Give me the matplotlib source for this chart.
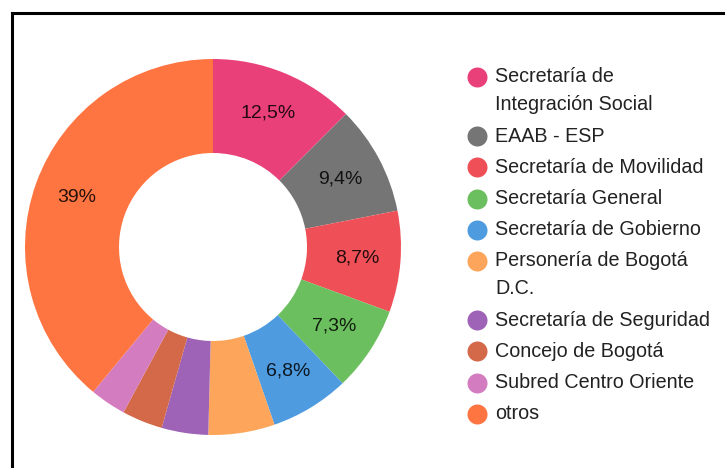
import matplotlib.pyplot as plt
from matplotlib.lines import Line2D
import numpy as np

plt.rcParams['font.family'] = ['Liberation Sans', 'DejaVu Sans']

labels = ['Secretaría de\nIntegración Social', 'EAAB - ESP', 'Secretaría de Movilidad',
          'Secretaría General', 'Secretaría de Gobierno', 'Personería de Bogotá\nD.C.',
          'Secretaría de Seguridad', 'Concejo de Bogotá', 'Subred Centro Oriente', 'otros']
values = [12.5, 9.4, 8.7, 7.3, 6.8, 5.7, 4.0, 3.5, 3.1, 39.0]
pct_text = ['12,5%', '9,4%', '8,7%', '7,3%', '6,8%', '', '', '', '', '39%']
colors = ['#E9407A', '#757575', '#EF5058', '#6CBF5E', '#4E9BE0',
          '#FDA55A', '#9E63B6', '#D4694A', '#D47CC0', '#FF7542']

W, H = 725, 468
fig = plt.figure(figsize=(W / 100, H / 100), dpi=100)

# donut: center (213, 247) px, radius 188 px
cx, cy, r = 213, 247, 188
ax = fig.add_axes([(cx - r) / W, (H - cy - r) / H, 2 * r / W, 2 * r / H])
wedges, _ = ax.pie(values, colors=colors, startangle=90, counterclock=False,
                   radius=1, wedgeprops=dict(width=0.5, linewidth=0))
for w, t in zip(wedges, pct_text):
    if not t:
        continue
    ang = np.deg2rad((w.theta1 + w.theta2) / 2)
    ax.text(0.77 * np.cos(ang), 0.77 * np.sin(ang), t, ha='center', va='center',
            fontsize=14, color='black', alpha=0.85)
ax.set_xlim(-1, 1)
ax.set_ylim(-1, 1)
ax.set_aspect('equal')
ax.axis('off')

# legend drawn in pixel coords
lg = fig.add_axes([0, 0, 1, 1], facecolor='none')
lg.set_xlim(0, W)
lg.set_ylim(H, 0)
lg.axis('off')
y = 77
for lab, col in zip(labels, colors):
    lg.plot(477, y, 'o', color=col, markersize=14.4, markeredgewidth=0)
    lines = lab.split('\n')
    for k, ln in enumerate(lines):
        lg.text(495, y + 28 * k, ln, ha='left', va='center', fontsize=14.2, color='#222222')
    y += 31.2 + 28 * (len(lines) - 1)

# frame edges (top and left only)
fig.add_artist(Line2D([12 / W, 1], [1 - 13 / H, 1 - 13 / H], color='black', linewidth=2.2,
                      transform=fig.transFigure))
fig.add_artist(Line2D([12 / W, 12 / W], [0, 1 - 13 / H], color='black', linewidth=2.2,
                      transform=fig.transFigure))

plt.savefig('out.png', dpi=100)
